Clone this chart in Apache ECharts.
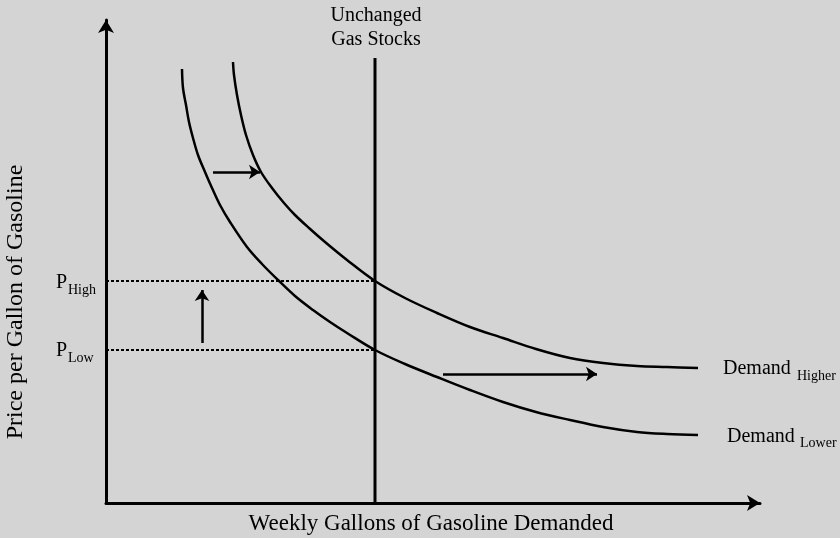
<!DOCTYPE html>
<html>
<head>
<meta charset="utf-8">
<script src="https://cdn.jsdelivr.net/npm/echarts@6/dist/echarts.min.js"></script>
<style>
  html, body { margin: 0; padding: 0; background: #d4d4d4; }
  #main { width: 840px; height: 538px; }
</style>
</head>
<body>
<div id="main"></div>
<script>
// demand curves: [quantity, price]
var demandLower = [[76,434],[77,415],[80,398],[83,381],[87,365],[92,348],[99,331],[106,315],[114,298],[124,281],[141,256],[156,239],[172,223],[189,207],[207,193],[224,181],[241,170],[269,153],[299,139],[331,126],[364,113],[397,101],[430,91],[464,83],[497,76],[531,71],[561,69],[592,68]];
var demandHigher = [[127,441],[128,428],[131,408],[135,388],[140,368],[147,348],[155,331],[166,315],[178,300],[189,288],[203,275],[219,261],[241,243],[269,222],[299,205],[331,190],[364,176],[397,165],[430,154],[464,145],[497,140],[531,137],[561,136],[592,135]];
var stockLine = [[269,0],[269,445]];
var pHigh = 222;
var pLow = 153;
// shift arrows
var arrows = [
    [[107,331],[154,331]],
    [[96,160],[96,213]],
    [[337,129],[491,129]]
];

var font = '"Liberation Serif", "Times New Roman", serif';

function curve(d, w, s) {
    return {
        type: 'line', data: d, showSymbol: false, smooth: s,
        lineStyle: { color: '#000', width: w }, silent: true, z: 3
    };
}

var myChart = echarts.init(document.getElementById('main'));
var option = {
    backgroundColor: '#d4d4d4',
    animation: false,
    grid: { left: 106, top: 20, right: 80, bottom: 35 },
    xAxis: {
        type: 'value', min: 0, max: 654,
        axisLine: { lineStyle: { color: '#000', width: 3 }, symbol: ['none', 'arrow'], symbolSize: [12, 13] },
        axisTick: { show: false }, axisLabel: { show: false }, splitLine: { show: false }
    },
    yAxis: {
        type: 'value', min: 0, max: 483,
        axisLine: { lineStyle: { color: '#000', width: 3 }, symbol: ['none', 'arrow'], symbolSize: [12, 13] },
        axisTick: { show: false }, axisLabel: { show: false }, splitLine: { show: false }
    },
    series: [
        curve(demandLower, 2.5, 0.35),
        curve(demandHigher, 2.5, 0.35),
        curve(stockLine, 3, false),
        {
            type: 'line', data: [[0, pHigh], [stockLine[0][0], pHigh]], showSymbol: false,
            lineStyle: { color: '#000', width: 2, type: [3, 2] }
        },
        {
            type: 'line', data: [[0, pLow], [stockLine[0][0], pLow]], showSymbol: false,
            lineStyle: { color: '#000', width: 2, type: [3, 2] }
        },
        {
            type: 'lines', coordinateSystem: 'cartesian2d',
            data: arrows.map(function (a) { return { coords: a }; }),
            symbol: ['none', 'arrow'], symbolSize: 11,
            lineStyle: { color: '#000', width: 2.5, opacity: 1 }
        }
    ],
    graphic: [
        { type: 'text', x: 376, y: 16, style: { text: 'Unchanged', font: '20px ' + font, fill: '#000', align: 'center', verticalAlign: 'middle' } },
        { type: 'text', x: 376, y: 40, style: { text: 'Gas Stocks', font: '20px ' + font, fill: '#000', align: 'center', verticalAlign: 'middle' } },
        { type: 'text', x: 431, y: 524, style: { text: 'Weekly Gallons of Gasoline Demanded', font: '23px ' + font, fill: '#000', align: 'center', verticalAlign: 'middle' } },
        { type: 'text', x: 16, y: 302, rotation: Math.PI / 2, style: { text: 'Price per Gallon of Gasoline', font: '24px ' + font, fill: '#000', align: 'center', verticalAlign: 'middle' } },
        { type: 'text', x: 56, y: 283, style: { text: 'P', font: '20px ' + font, fill: '#000', verticalAlign: 'middle' } },
        { type: 'text', x: 68, y: 290, style: { text: 'High', font: '14px ' + font, fill: '#000', verticalAlign: 'middle' } },
        { type: 'text', x: 56, y: 351, style: { text: 'P', font: '20px ' + font, fill: '#000', verticalAlign: 'middle' } },
        { type: 'text', x: 68, y: 358, style: { text: 'Low', font: '14px ' + font, fill: '#000', verticalAlign: 'middle' } },
        { type: 'text', x: 723, y: 369, style: { text: 'Demand', font: '20px ' + font, fill: '#000', verticalAlign: 'middle' } },
        { type: 'text', x: 797, y: 376, style: { text: 'Higher', font: '14px ' + font, fill: '#000', verticalAlign: 'middle' } },
        { type: 'text', x: 727, y: 437, style: { text: 'Demand', font: '20px ' + font, fill: '#000', verticalAlign: 'middle' } },
        { type: 'text', x: 800, y: 443, style: { text: 'Lower', font: '14px ' + font, fill: '#000', verticalAlign: 'middle' } }
    ]
};
myChart.setOption(option);
</script>
</body>
</html>
